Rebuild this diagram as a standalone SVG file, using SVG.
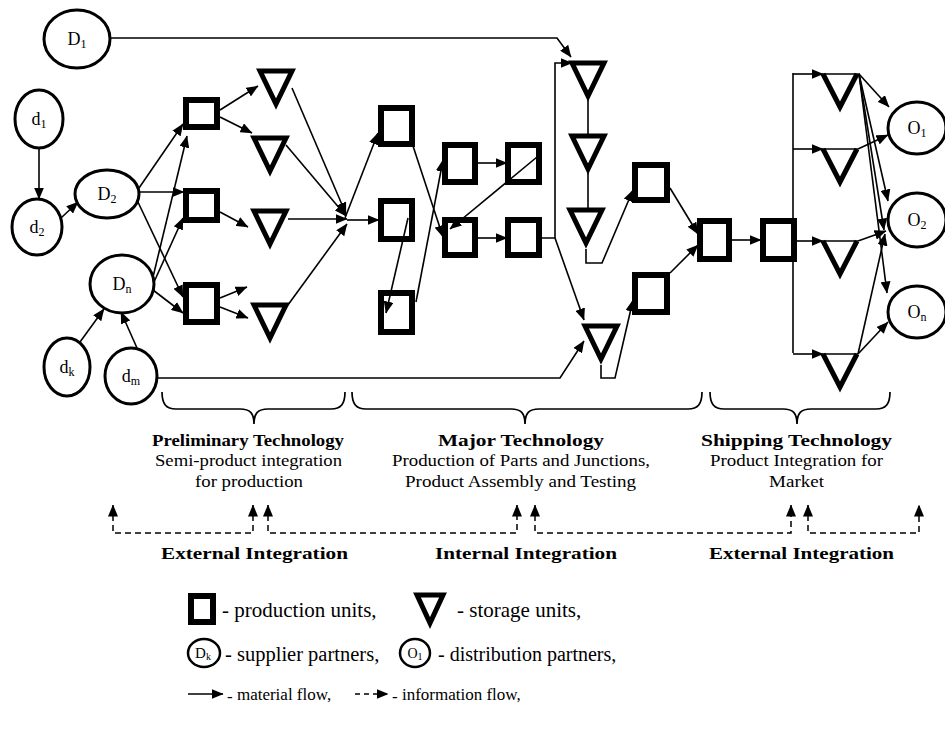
<svg xmlns="http://www.w3.org/2000/svg" width="945" height="731" viewBox="0 0 945 731">
<defs>
<marker id="ah" viewBox="0 0 12 10" refX="11.5" refY="5" markerWidth="12" markerHeight="10" markerUnits="userSpaceOnUse" orient="auto"><path d="M0,0 L12,5 L0,10 z" fill="#000"/></marker>
<marker id="ai" viewBox="0 0 12 10" refX="11.5" refY="5" markerWidth="12" markerHeight="10" markerUnits="userSpaceOnUse" orient="auto-start-reverse"><path d="M0,0 L12,5 L0,10 z" fill="#000"/></marker>
</defs>
<style>
text{font-family:"Liberation Serif","Times New Roman",serif;fill:#000}
.lbl{font-size:18px;text-anchor:middle}
.sub{font-size:12px}
.b{font-weight:bold;font-size:17px}
.r{font-size:16px}
.ell{fill:#fff;stroke:#000;stroke-width:3}
.prod{fill:#fff;stroke:#000;stroke-width:6}
.stor{fill:#fff;stroke:#000;stroke-width:5;stroke-linejoin:miter;stroke-miterlimit:10}
.vee{fill:none;stroke:#000;stroke-width:5;stroke-linejoin:miter;stroke-miterlimit:10}
.fl{fill:none;stroke:#000;stroke-width:1.6;marker-end:url(#ah)}
.ln{fill:none;stroke:#000;stroke-width:1.6}
.br{fill:none;stroke:#000;stroke-width:1.7}
.inf{fill:none;stroke:#000;stroke-width:1.5;stroke-dasharray:6 4;marker-start:url(#ai);marker-end:url(#ai)}
</style>
<rect width="945" height="731" fill="#fff"/>

<g id="D1"><ellipse class="ell" cx="77" cy="39" rx="33" ry="29"/><text class="lbl" x="77" y="45">D<tspan class="sub" dy="3">1</tspan></text></g>
<g id="d1"><ellipse class="ell" cx="39" cy="119" rx="24" ry="29"/><text class="lbl" x="39" y="125">d<tspan class="sub" dy="3">1</tspan></text></g>
<g id="d2"><ellipse class="ell" cx="37" cy="227" rx="25" ry="28"/><text class="lbl" x="37" y="233">d<tspan class="sub" dy="3">2</tspan></text></g>
<g id="D2"><ellipse class="ell" cx="107" cy="194" rx="32" ry="24"/><text class="lbl" x="107" y="200">D<tspan class="sub" dy="3">2</tspan></text></g>
<g id="Dn"><ellipse class="ell" cx="122" cy="284" rx="32" ry="29"/><text class="lbl" x="122" y="290">D<tspan class="sub" dy="3">n</tspan></text></g>
<g id="dk"><ellipse class="ell" cx="67" cy="367" rx="23" ry="29"/><text class="lbl" x="67" y="373">d<tspan class="sub" dy="3">k</tspan></text></g>
<g id="dm"><ellipse class="ell" cx="131" cy="376" rx="26" ry="28"/><text class="lbl" x="131" y="382">d<tspan class="sub" dy="3">m</tspan></text></g>
<g id="O1"><ellipse class="ell" cx="917" cy="128" rx="29" ry="26"/><text class="lbl" x="917" y="134">O<tspan class="sub" dy="3">1</tspan></text></g>
<g id="O2"><ellipse class="ell" cx="917" cy="220" rx="29" ry="27"/><text class="lbl" x="917" y="226">O<tspan class="sub" dy="3">2</tspan></text></g>
<g id="On"><ellipse class="ell" cx="917" cy="312" rx="29" ry="26"/><text class="lbl" x="917" y="318">O<tspan class="sub" dy="3">n</tspan></text></g>

<g id="p1"><rect class="prod" x="186" y="100" width="31" height="27"/></g>
<g id="p2"><rect class="prod" x="186" y="191" width="31" height="29"/></g>
<g id="p3"><rect class="prod" x="186" y="285" width="31" height="37"/></g>
<g id="pA"><rect class="prod" x="381" y="108" width="31" height="36"/></g>
<g id="pB"><rect class="prod" x="381" y="201" width="31" height="38"/></g>
<g id="pC"><rect class="prod" x="381" y="293" width="31" height="39"/></g>
<g id="pD"><rect class="prod" x="445" y="145" width="30" height="37"/></g>
<g id="pE"><rect class="prod" x="445" y="220" width="30" height="35"/></g>
<g id="pF"><rect class="prod" x="508" y="145" width="31" height="37"/></g>
<g id="pG"><rect class="prod" x="508" y="220" width="31" height="35"/></g>
<g id="pH"><rect class="prod" x="635" y="165" width="32" height="35"/></g>
<g id="pI"><rect class="prod" x="635" y="275" width="32" height="37"/></g>
<g id="pJ"><rect class="prod" x="700" y="221" width="29" height="38"/></g>
<g id="pK"><rect class="prod" x="763" y="221" width="31" height="38"/></g>

<g id="s1"><polygon class="stor" points="260,71 292,71 276,104"/></g>
<g id="s2"><polygon class="stor" points="254,138 286,138 270,171"/></g>
<g id="s3"><polygon class="stor" points="254,211 286,211 270,244"/></g>
<g id="s4"><polygon class="stor" points="254,305 286,305 270,338"/></g>
<g id="t1"><polygon class="stor" points="572,63 604,63 588,96"/></g>
<g id="t2"><polygon class="stor" points="572,136 604,136 588,169"/></g>
<g id="t3"><polygon class="stor" points="570,210 602,210 586,243"/></g>
<g id="t4"><polygon class="stor" points="585,326 617,326 601,359"/></g>
<g id="u1"><polyline class="vee" points="823,74 840,107 857,74"/></g>
<g id="u2"><polyline class="vee" points="823,149 840,182 857,149"/></g>
<g id="u3"><polyline class="vee" points="823,241 840,274 857,241"/></g>
<g id="u4"><polyline class="vee" points="823,354 840,387 857,354"/></g>

<g id="connectors">
<path class="fl" d="M39,148 L39,199"/>
<path class="fl" d="M61,218 L78,202"/>
<path class="fl" d="M80,342 L104,309"/>
<path class="fl" d="M137,348 L121,312"/>
<path class="fl" d="M139,188 L183,124"/>
<path class="fl" d="M139,192 L184,192"/>
<path class="fl" d="M137,200 L183,297"/>
<path class="fl" d="M153,277 L187,136"/>
<path class="fl" d="M154,282 L183,218"/>
<path class="fl" d="M153,290 L183,313"/>
<path class="fl" d="M220,110 L258,86"/>
<path class="fl" d="M220,117 L252,133"/>
<path class="fl" d="M220,212 L248,227"/>
<path class="fl" d="M220,298 L247,287"/>
<path class="fl" d="M220,307 L248,318"/>
<path class="fl" d="M292,88 L346,214"/>
<path class="fl" d="M286,145 L346,216"/>
<path class="fl" d="M288,219 L347,219"/>
<path class="fl" d="M285,309 L347,224"/>
<path class="fl" d="M345,218 L378,133"/>
<path class="fl" d="M347,220 L379,220"/>
<path class="fl" d="M413,146 L443,237"/>
<path class="fl" d="M408,218 L386,313"/>
<path class="fl" d="M416,302 L443,160"/>
<path class="fl" d="M478,163 L507,163"/>
<path class="fl" d="M537,157 L450,229"/>
<path class="fl" d="M478,238 L507,238"/>
<path class="fl" d="M110,38 L557,38 L571,57"/>
<path class="fl" d="M542,238 L555,238 L555,63 L572,63"/>
<path class="fl" d="M555,238 L584,320"/>
<path class="fl" d="M157,378 L560,378 L584,341"/>
<path class="ln" d="M588,100 L588,136"/>
<path class="ln" d="M588,173 L588,210"/>
<path class="fl" d="M586,249 L586,263 L602,263 L633,190"/>
<path class="fl" d="M601,365 L601,378 L615,378 L633,300"/>
<path class="fl" d="M670,188 L698,234"/>
<path class="fl" d="M670,273 L698,245"/>
<path class="fl" d="M732,240 L761,240"/>
<path class="ln" d="M793,73 L793,353"/>
<path class="fl" d="M793,74 L823,74"/>
<path class="fl" d="M793,149 L823,149"/>
<path class="fl" d="M793,241 L823,241"/>
<path class="fl" d="M793,354 L823,354"/>
<path class="ln" d="M823,74 L860,74"/>
<path class="ln" d="M823,149 L858,149"/>
<path class="ln" d="M823,241 L858,241"/>
<path class="ln" d="M823,354 L858,354"/>
<path class="fl" d="M859,74 L889,107"/>
<path class="fl" d="M859,74 L888,201"/>
<path class="fl" d="M859,74 L887,293"/>
<path class="fl" d="M859,74 L884,230"/>
<path class="fl" d="M858,149 L888,135"/>
<path class="fl" d="M858,241 L886,231"/>
<path class="fl" d="M858,354 L888,322"/>
<path class="fl" d="M858,354 L885,234"/>
<path class="inf" d="M113,505 L113,533 L253,533 L253,505"/>
<path class="inf" d="M268,505 L268,533 L517,533 L517,505"/>
<path class="inf" d="M535,505 L535,533 L791,533 L791,505"/>
<path class="inf" d="M808,505 L808,533 L919,533 L919,505"/>
</g>

<g id="braces">
<path class="br" d="M162,392 C162,404 166,409 176,409 L240,409 C250,409 254,413 254,424 C254,413 258,409 268,409 L331,409 C341,409 345,404 345,392"/>
<path class="br" d="M352,392 C352,404 356,409 366,409 L511,409 C521,409 525,413 525,424 C525,413 529,409 539,409 L688,409 C698,409 702,404 702,392"/>
<path class="br" d="M710,392 C710,404 714,409 724,409 L783,409 C793,409 797,413 797,424 C797,413 801,409 811,409 L876,409 C886,409 890,404 890,392"/>
</g>

<g id="labels">
<text class="b" x="152" y="446" textLength="192" lengthAdjust="spacingAndGlyphs">Preliminary Technology</text>
<text class="r" x="155" y="466" textLength="187" lengthAdjust="spacingAndGlyphs">Semi-product integration</text>
<text class="r" x="195" y="487" textLength="108" lengthAdjust="spacingAndGlyphs">for production</text>
<text class="b" x="438" y="446" textLength="166" lengthAdjust="spacingAndGlyphs">Major Technology</text>
<text class="r" x="392" y="466" textLength="258" lengthAdjust="spacingAndGlyphs">Production of Parts and Junctions,</text>
<text class="r" x="405" y="487" textLength="231" lengthAdjust="spacingAndGlyphs">Product Assembly and Testing</text>
<text class="b" x="701" y="446" textLength="191" lengthAdjust="spacingAndGlyphs">Shipping Technology</text>
<text class="r" x="710" y="466" textLength="173" lengthAdjust="spacingAndGlyphs">Product Integration for</text>
<text class="r" x="769" y="487" textLength="55" lengthAdjust="spacingAndGlyphs">Market</text>
<text class="b" x="161" y="559" textLength="187" lengthAdjust="spacingAndGlyphs">External Integration</text>
<text class="b" x="435" y="559" textLength="182" lengthAdjust="spacingAndGlyphs">Internal Integration</text>
<text class="b" x="709" y="559" textLength="185" lengthAdjust="spacingAndGlyphs">External Integration</text>
</g>

<g id="legend">
<rect class="prod" x="191" y="596" width="22" height="26"/>
<text x="222" y="617" style="font-size:21px">- production units,</text>
<polygon class="stor" points="417,595 443,595 430,623"/>
<text x="457" y="617" style="font-size:21px">- storage units,</text>
<ellipse cx="204" cy="653" rx="16" ry="14" fill="#fff" stroke="#000" stroke-width="2.5"/>
<text x="203" y="658" style="font-size:15px;text-anchor:middle">D<tspan style="font-size:10px" dy="2">k</tspan></text>
<text x="225" y="661" style="font-size:20.5px">- supplier partners,</text>
<ellipse cx="415" cy="653" rx="15" ry="14" fill="#fff" stroke="#000" stroke-width="2.5"/>
<text x="415" y="658" style="font-size:14px;text-anchor:middle">O<tspan style="font-size:10px" dy="2">1</tspan></text>
<text x="438" y="661" style="font-size:20px">- distribution partners,</text>
<path class="fl" d="M188,694 L223,694"/>
<text x="227" y="700" style="font-size:17px"><tspan dy="2">-</tspan><tspan dy="-2"> material flow,</tspan></text>
<path d="M355,694 L388,694" fill="none" stroke="#000" stroke-width="1.5" stroke-dasharray="5 4" marker-end="url(#ai)"/>
<text x="392" y="700" style="font-size:17px"><tspan dy="2">-</tspan><tspan dy="-2"> information flow,</tspan></text>
</g>
</svg>
